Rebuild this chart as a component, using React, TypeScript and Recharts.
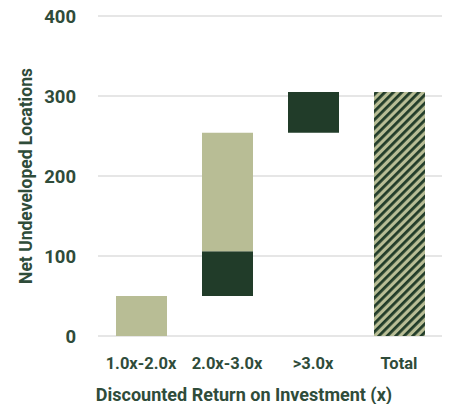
import { BarChart, Bar, XAxis, YAxis, CartesianGrid } from "recharts";

const categories = ["1.0x-2.0x", "2.0x-3.0x", ">3.0x", "Total"];
const offsets = [0, 50, 254, 0];
const darkValues = [0, 56, 51, 0];
const lightValues = [50, 148, 0, 0];
const totalValues = [0, 0, 0, 305];
const yTicks = [0, 100, 200, 300, 400];

const LIGHT = "#b8bd95";
const DARK = "#213c29";
const TEXT = "#2f4c3a";

const data = categories.map((name, i) => ({
  name,
  offset: offsets[i],
  dark: darkValues[i],
  light: lightValues[i],
  total: totalValues[i],
}));

export default function App() {
  return (
    <div style={{ position: "absolute", left: 0, top: 0, background: "#fff" }}>
      <BarChart
        width={449}
        height={404}
        data={data}
        margin={{ top: 16, right: 7, left: 0, bottom: 4 }}
        barSize={51}
      >
        <defs>
          <pattern
            id="hatch"
            patternUnits="userSpaceOnUse"
            width="6"
            height="6"
            patternTransform="rotate(45)"
          >
            <rect x="0" y="0" width="6" height="6" fill={LIGHT} />
            <rect x="0" y="0" width="2.8" height="6" fill={DARK} />
          </pattern>
        </defs>
        <CartesianGrid vertical={false} stroke="#e6e6e6" strokeWidth={2} />
        <XAxis
          dataKey="name"
          axisLine={false}
          tickLine={false}
          height={64}
          tickMargin={15}
          tick={{ fill: TEXT, fontSize: 16.5, fontWeight: 700, fontFamily: "Roboto" }}
          label={{
            value: "Discounted Return on Investment (x)",
            position: "insideBottom",
            offset: -1,
            dx: -26,
            style: { fill: TEXT, fontSize: 18, fontWeight: 700, fontFamily: "Roboto" },
          }}
        />
        <YAxis
          width={98}
          domain={[0, 400]}
          ticks={yTicks}
          axisLine={false}
          tickLine={false}
          tickSize={0}
          tickMargin={22}
          tick={{ fill: TEXT, fontSize: 18.5, fontWeight: 700, fontFamily: "Roboto" }}
          label={{
            value: "Net Undeveloped Locations",
            angle: -90,
            position: "insideLeft",
            offset: 26,
            style: { textAnchor: "middle", fill: TEXT, fontSize: 17.5, fontWeight: 700, fontFamily: "Roboto" },
          }}
        />
        <Bar dataKey="offset" stackId="s" fill="transparent" isAnimationActive={false} />
        <Bar dataKey="dark" stackId="s" fill={DARK} isAnimationActive={false} />
        <Bar dataKey="light" stackId="s" fill={LIGHT} isAnimationActive={false} />
        <Bar dataKey="total" stackId="s" fill="url(#hatch)" isAnimationActive={false} />
      </BarChart>
    </div>
  );
}
